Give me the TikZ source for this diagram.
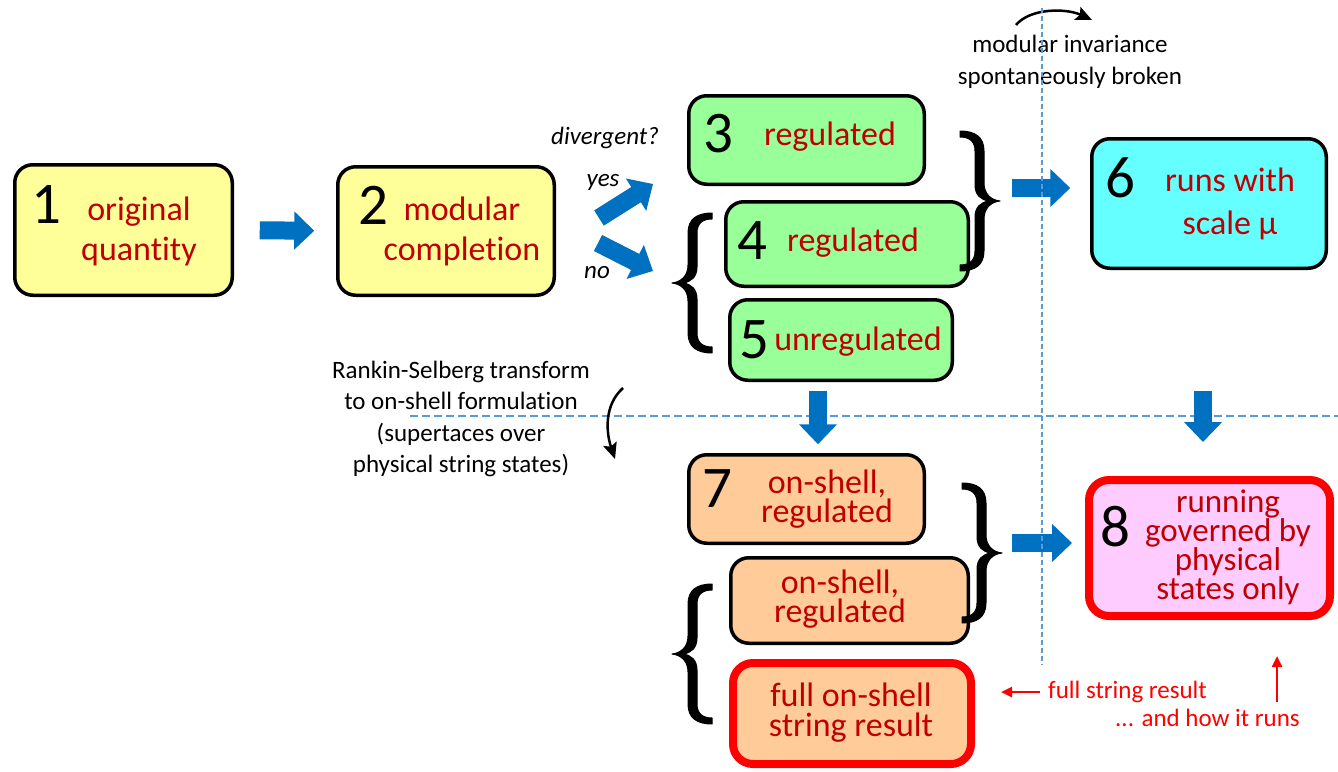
\documentclass[tikz,border=0pt]{standalone}
\usepackage{fontspec}
\setmainfont{Carlito}[Ligatures={NoCommon,NoContextual}]
\usetikzlibrary{arrows.meta}
\definecolor{boxred}{HTML}{C00000}
\definecolor{yel}{HTML}{FFFF99}
\definecolor{grn}{HTML}{99FF99}
\definecolor{cyn}{HTML}{66FFFF}
\definecolor{pch}{HTML}{FFCC99}
\definecolor{pnk}{HTML}{FFCCFF}
\definecolor{arrblue}{HTML}{0070C0}
\definecolor{dashblue}{HTML}{5B9BD5}
\definecolor{brightred}{HTML}{FF0000}
\begin{document}
\begin{tikzpicture}[x=1pt,y=-1pt,
  box/.style={draw=black, line width=3.5pt, rounded corners=18pt, inner sep=0pt},
  redbox/.style={draw=brightred, line width=8pt, rounded corners=20pt, inner sep=0pt},
  num/.style={font=\fontsize{59}{59}\selectfont, inner sep=0pt},
  lbl/.style={text=boxred, font=\fontsize{34}{40}\selectfont, align=center, inner sep=0pt},
  note/.style={font=\fontsize{25}{31.5}\selectfont, align=center, inner sep=0pt},
  blockarrow/.style={draw=arrblue, line width=18pt, line cap=butt, -{Triangle[length=20pt,width=37pt]}},
  redarrow/.style={draw=brightred, line width=2.5pt, -{Triangle[length=11pt,width=10pt]}},
  curvearrow/.style={draw=black, line width=2.5pt, -{Stealth[length=16pt,width=14pt,inset=3pt]}},
  dashline/.style={draw=dashblue, line width=2pt},
  mybrace/.pic={\filldraw[line width=1pt, line join=round]
     (40,-70) .. controls (25,-70) and (16,-64) .. (16,-50) -- (16,-18)
     .. controls (16,-7) and (9,-1) .. (0,0)
     .. controls (9,1) and (16,7) .. (16,18) -- (16,50)
     .. controls (16,64) and (25,70) .. (40,70)
     -- (40,64) .. controls (31,64) and (25,60) .. (25,50) -- (25,16)
     .. controls (25,6) and (19,1) .. (11,0)
     .. controls (19,-1) and (25,-6) .. (25,-16) -- (25,-50)
     .. controls (25,-60) and (31,-64) .. (40,-64) -- cycle;}
]
\useasboundingbox (0,0) rectangle (1338,771);

% horizontal dashed line (behind)
\coordinate (hl1) at (410,416);
\coordinate (hl2) at (1338,416);
\draw[dashline, dash pattern=on 8pt off 4pt] (hl1) -- (hl2);

% boxes
\node[box, fill=yel, minimum width=217.5pt, minimum height=130.5pt] (b1) at (123.5,230) {};
\node[box, fill=yel, minimum width=216.5pt, minimum height=128.5pt] (b2) at (446,231) {};
\node[box, fill=grn, minimum width=235.5pt, minimum height=88.5pt] (b3) at (806.5,140) {};
\node[box, fill=grn, minimum width=242.5pt, minimum height=84.5pt] (b4) at (847,244) {};
\node[box, fill=grn, minimum width=222.5pt, minimum height=80.5pt] (b5) at (841,340) {};
\node[box, fill=cyn, minimum width=234.5pt, minimum height=129.5pt] (b6) at (1209,203.5) {};
\node[box, fill=pch, minimum width=235.5pt, minimum height=88.5pt] (b7) at (806.5,499) {};
\node[box, fill=pch, minimum width=237.5pt, minimum height=85.5pt] (b7b) at (849.5,600.5) {};
\node[redbox, fill=pnk, minimum width=241pt, minimum height=136pt] (b8) at (1209.5,548) {};
\node[redbox, fill=pch, minimum width=238pt, minimum height=101pt] (b9) at (852,713.5) {};

% box texts
\node[num] (n1) at (46,205) {1};
\node[lbl] (t1) at (139,231) {original\\quantity};
\node[num] (n2) at (373,205) {2};
\node[lbl] (t2) at (462,231) {modular\\completion};
\node[num] (n3) at (718,134) {3};
\node[lbl] (t3) at (830,137) {regulated};
\node[num] (n4) at (752,241) {4};
\node[lbl] (t4) at (853,243) {regulated};
\node[num] (n5) at (754,340) {5};
\node[lbl] (t5) at (858,342) {unregulated};
\node[num] (n6) at (1120,178) {6};
\node[lbl, font=\fontsize{34}{43}\selectfont] (t6) at (1230,204) {runs with\\scale μ};
\node[num] (n7) at (717,489) {7};
\node[lbl, font=\fontsize{34}{29}\selectfont] (t7) at (827,499) {on-shell,\\regulated};
\node[lbl, font=\fontsize{34}{29}\selectfont] (t7b) at (840,599) {on-shell,\\regulated};
\node[num] (n8) at (1115,527) {8};
\node[lbl, font=\fontsize{33}{29}\selectfont] (t8) at (1228,547) {running\\governed by\\physical\\states only};
\node[lbl, font=\fontsize{34}{30}\selectfont] (t9) at (851,713) {full on-shell\\string result};

% annotations
\node[note] (mi) at (1070,62) {modular invariance\\spontaneously broken};
\node[note, font=\fontsize{25}{31}\selectfont\itshape] (dv) at (605,138) {divergent?};
\node[note, font=\fontsize{25}{31}\selectfont\itshape] (ys) at (603,182) {yes};
\node[note, font=\fontsize{25}{31}\selectfont\itshape] (no) at (597,273) {no};
\node[note] (rs) at (461,419) {Rankin-Selberg transform\\to on-shell formulation\\(supertaces over\\physical string states)};
\node[note, text=brightred, anchor=west] (fs) at (1048,692) {full string result};
\node[note, text=brightred, anchor=east] (hr) at (1300,718) {... and how it runs};

% braces
\pic at (672,283) {mybrace};
\pic at (672,654) {mybrace};
\pic[xscale=-1] at (1000,201) {mybrace};
\pic[xscale=-1] at (1002,553) {mybrace};

% blue block arrows
\draw[blockarrow, shorten <=25.75pt, shorten >=21.75pt] (b1.east) -- (b2.west);
\coordinate (ya1) at (599,218);
\coordinate (ya2) at (653,184);
\draw[blockarrow] (ya1) -- (ya2);
\coordinate (na1) at (598,243);
\coordinate (na2) at (653,271);
\draw[blockarrow] (na1) -- (na2);
\coordinate (r1) at (1012,188);
\draw[blockarrow, shorten >=19.75pt] (r1) -- (r1 -| b6.west);
\coordinate (r2) at (1012,543);
\draw[blockarrow, shorten >=13pt] (r2) -- (r2 -| b8.west);
\coordinate (d1) at (818,391);
\draw[blockarrow, shorten >=8.75pt] (d1) -- (d1 |- b7.north);
\coordinate (d2) at (1203,391);
\draw[blockarrow, shorten >=34pt] (d2) -- (d2 |- b8.north);

% red arrows
\draw[redarrow, shorten <=8pt, shorten >=26pt] (fs.west) -- (fs.west -| b9.east);
\coordinate (ua) at (1277,702);
\draw[redarrow, shorten >=36pt] (ua) -- (ua |- b8.south);

% curved black arrows
\coordinate (ca1) at (1016,25);
\coordinate (ca2) at (1092,20);
\draw[curvearrow] (ca1) .. controls (1030,8) and (1066,8) .. (ca2);
\coordinate (cb1) at (623,388);
\coordinate (cb2) at (615,459);
\draw[curvearrow] (cb1) .. controls (604,405) and (606,432) .. (cb2);

% vertical dashed line (on top)
\coordinate (vl1) at (1042,8);
\coordinate (vl2) at (1042,665);
\draw[dashline, dash pattern=on 5pt off 3pt] (vl1) -- (vl2);
\end{tikzpicture}
\end{document}
